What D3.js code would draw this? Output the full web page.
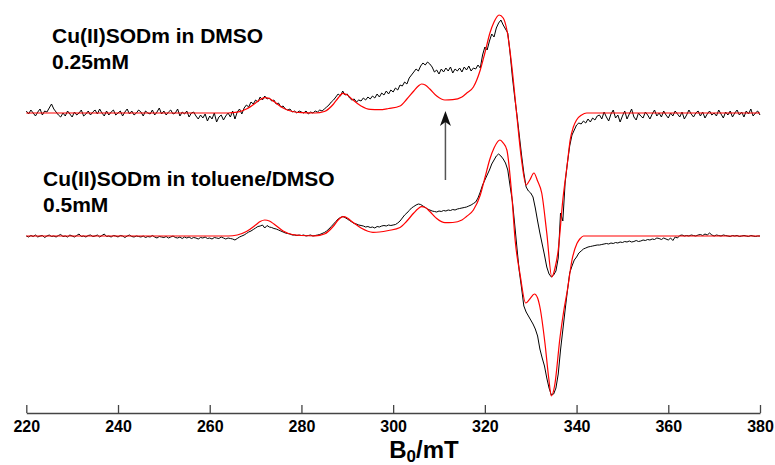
<!DOCTYPE html>
<html>
<head>
<meta charset="utf-8">
<script src="https://cdn.jsdelivr.net/npm/d3@7"></script>
<style>
  html, body { margin: 0; padding: 0; background: #fff; }
  svg { display: block; }
  text { font-family: "Liberation Sans", Arial, sans-serif; font-weight: bold; fill: #000; }
</style>
</head>
<body>
<svg id="chart" width="775" height="465"></svg>
<script>
// EPR spectra, Cu(II)SODm — experimental (black) vs simulated (red)

const FIELD_START = 220;     // mT
const FIELD_STEP  = 0.5;     // mT per experimental point
const ROW_SPAN    = 5;       // mT per row of 10 points

const xTicks = [220, 240, 260, 280, 300, 320, 340, 360, 380];

// vertical offsets of the two spectra (a.u.)
const OFFSET_TOP    = 0;
const OFFSET_BOTTOM = -123;

// ─── Top spectrum: DMSO 0.25 mM ───────────────────────────────────────────────
const topExp = [
  [2, -1, 3, 0, -3, 1, 4, -2, 2, 1],            // 220
  [5, 9, 4, 1, -2, -4, 0, -3, 2, -1],
  [-4, 1, -2, 0, 3, -3, -1, 2, -2, 1],          // 230
  [3, -1, 4, 0, -3, 2, -2, 1, 3, -2],
  [0, 2, -3, 1, 4, -1, 2, -2, 0, 3],            // 240
  [1, -3, 2, 0, -1, 3, -2, 1, 5, -1],
  [2, -2, 1, 3, -1, 0, 4, -3, 1, -1],           // 250
  [2, -4, 0, 1, -3, -6, -2, -5, -1, -8],
  [-3, -6, 0, -9, -4, -2, -7, -3, 0, -4],       // 260
  [2, -6, 1, 4, -1, 5, 8, 6, 11, 9],
  [13, 11, 16, 13, 17, 14, 15, 12, 13, 9],      // 270
  [10, 6, 7, 4, 3, 4, 1, 2, 0, 2],
  [1, 0, 2, -1, 1, 0, 2, 1, 3, 2],              // 280
  [4, 6, 8, 11, 13, 16, 19, 17, 22, 18],
  [19, 15, 13, 14, 11, 13, 12, 15, 13, 16],     // 290
  [14, 17, 15, 19, 16, 20, 18, 22, 19, 23],
  [21, 25, 23, 28, 27, 31, 29, 35, 38, 41],     // 300
  [44, 42, 47, 50, 48, 51, 49, 46, 41, 43],
  [39, 44, 41, 45, 42, 46, 40, 44, 42, 45],     // 310
  [41, 46, 43, 47, 42, 45, 44, 48, 45, 58],
  [66, 63, 72, 79, 76, 85, 90, 93, 88, 84],     // 320
  [80, 60, 36, 16, -2, -22, -42, -60, -74, -78],
  [-80, -84, -95, -108, -120, -131, -142, -154, -161, -164], // 330
  [-162, -158, -145, -100, -108, -70, -50, -33, -22, -17],
  [-12, -10, -11, -8, -10, -6, -9, -5, -7, -3], // 340
  [-2, -6, 1, -4, -8, -1, 3, -5, -2, -9],
  [-3, 2, -6, -1, 4, -4, -7, 0, -3, -5],        // 350
  [1, -2, -6, -1, 3, -3, 0, -4, 2, -2],
  [-5, 0, -3, 2, -1, -4, 1, -6, -2, 3],         // 360
  [-1, -4, 0, 2, -3, 1, -5, -1, 2, -2],
  [0, -3, 3, -1, -5, 1, -2, 2, -4, 0],          // 370
  [3, -2, 1, -4, 2, -1, 4, -3, 0, 2],
  [-2]                                          // 380
];

const topSimField = [220, 264, 266, 268, 270, 271, 272, 273, 274, 276, 278, 280, 283, 285, 287, 288,
  289, 290, 291, 293, 295, 297, 299, 301.5, 303, 304.5, 305.5, 306.2, 307, 308, 309.5, 311.3,
  313, 315, 316, 317.5, 319, 320, 321.1, 322, 323.1, 324, 324.8, 325.9, 327, 328, 329, 329.8,
  330.7, 331.5, 332.4, 333.5, 334.6, 335.3, 336, 337, 338, 338.6, 339.3, 340, 341.1, 342.2, 380];
const topSimValue = [0, 0, 0.8, 4, 10, 13.5, 15.3, 14.5, 11.5, 5, 1.5, 0.3, 0, 1.5, 9, 15,
  19.7, 18, 14, 7, 3.6, 3.3, 4.5, 7, 14, 22, 27, 29, 28, 24, 17, 13,
  13.3, 16, 19.7, 26, 43, 60, 80, 91, 98, 95, 83, 46, -4, -47, -72, -67,
  -60, -68, -80, -120, -164, -155, -137, -87, -50, -27, -14, -7, -2, 0, 0];

// ─── Bottom spectrum: toluene/DMSO 0.5 mM ─────────────────────────────────────
const bottomExp = [
  [0, -1, 0.5, -0.5, 1, -1, 0, 0.5, -1.5, 0],                // 220
  [1, -0.5, 0, -1, 0.5, 1.5, -0.5, 0, -1, 1],
  [0, -1, 0.5, 2, -0.5, 0, -1, 0.5, 1, -0.5],                // 230
  [0, 1, -1, 0.5, 2, -0.5, 0, -1, 0.5, 0],
  [-1, 0.5, 0, -1.5, 0, 1, -0.5, -1, 0, -0.5],               // 240
  [-1, 0, -1.5, -0.5, -1, 0.5, -1, -2, -0.5, -1],
  [-1.5, -0.5, -2, -1, 0, -1.5, -2, -1, -2.5, -1],           // 250
  [-2, -1, -2.5, -1.5, -2, -3, -1.5, -2, -1, -2.5],
  [-2, -3, -1.5, -2, -2.5, -1, -2, -3, -2, -2.5],            // 260
  [-3, -4, -2.5, -1, 0, 1, 2.5, 4, 5, 6.5],
  [8, 9.5, 10, 11, 8, 10.5, 9, 8.5, 7.5, 7],                 // 270
  [6, 5, 4, 3, 2.5, 2, 1, 1, 0.5, 1],
  [0.5, 1, 0, 0.5, 1, 0, 0.5, 1, 1.5, 2.5],                  // 280
  [3.5, 5, 7, 9.5, 12, 14.5, 17, 18.5, 19.5, 18.5],
  [17, 15.5, 14, 12.5, 12, 11, 10.5, 10, 9, 9.5],            // 290
  [8.5, 9, 8, 9.5, 9, 10, 10.5, 10, 11, 10.5],
  [11, 11.5, 13, 15, 18, 21, 23, 25.5, 28, 29.5],            // 300
  [31, 32, 31.5, 30, 28.5, 27, 26, 25, 24.5, 24],
  [25, 24.5, 25.5, 25, 26, 25.5, 26.5, 26, 27, 27.5],        // 310
  [28, 28.5, 29, 30, 31, 32.5, 34, 38, 44, 51],
  [56, 61, 66, 72, 76, 80, 82, 80, 77, 73],                  // 320
  [66, 50, 35, 12, -12, -35, -52, -70, -76, -80],
  [-84, -88, -93, -100, -113, -122, -130, -142, -152, -159], // 330
  [-158, -152, -138, -114, -94, -74, -55, -37, -30, -24],
  [-21, -17, -15, -13, -12, -11, -10.5, -10, -9.5, -9],      // 340
  [-9, -8.5, -8, -7.5, -8, -7, -7.5, -6.5, -7, -6],
  [-6.5, -5.5, -6, -5, -6, -5.5, -4.5, -5.5, -5, -4],        // 350
  [-4.5, -3.5, -4, -3, -3.5, -2, -2.5, -3.5, -2, -3],
  [-4, -2, -4.5, -1, -2, 0.5, 1, 0, 0.5, 0],                 // 360
  [1, 0.5, 0, 1, 1.5, 0.5, 2, 1, 3, 1],
  [0, 1, 0.5, 0, 1, 0.5, 0, -0.5, 0.5, 0],                   // 370
  [0.5, -0.5, 0, 0.5, 0, -0.5, 0.5, 0, -0.5, 0],
  [0]                                                        // 380
];

const bottomSimField = [220, 264, 266, 268, 270, 271, 272, 273, 274, 276, 278, 280, 283, 285, 287, 288,
  289.2, 290, 291, 293, 295.6, 297, 299, 301.5, 303, 304.5, 305.5, 306.2, 307, 308, 309.5, 311.3,
  313, 315, 316, 317.5, 319, 320, 321.1, 322, 323.3, 324, 324.8, 325.9, 326.6, 327.7, 328.9, 329.8,
  330.8, 331.5, 332, 333.1, 333.9, 334.5, 335.2, 336.4, 337.2, 338, 339, 340.1, 340.8, 341.5, 380];
const bottomSimValue = [0, 0, 1, 4.5, 11, 14.5, 16, 15, 12, 5, 1.5, 0.5, 0.2, 2, 10, 16,
  19.3, 18, 14.5, 8, 3.7, 4, 5.5, 8.5, 15, 23, 27.5, 29.3, 28.5, 24.5, 17.5, 13.3,
  13.5, 16, 19.5, 26, 41, 58, 77, 88, 96, 93, 86, 39, -4, -39, -67, -63,
  -58, -62, -71, -107, -141, -160, -150, -101, -75, -54, -24, -7.3, -2.5, 0, 0];

const sampleLabels = [
  ["Cu(II)SODm in DMSO", "0.25mM"],
  ["Cu(II)SODm in toluene/DMSO", "0.5mM"]
];

// ─── Helpers ──────────────────────────────────────────────────────────────────
function unrollRows(rows) {
  const pts = [];
  rows.forEach((row, r) => row.forEach((v, j) => {
    pts.push([FIELD_START + r * ROW_SPAN + j * FIELD_STEP, v]);
  }));
  return pts;
}

const svg = d3.select('#chart');

const x = d3.scaleLinear().domain([220, 380]).range([26.3, 760]);
const y = d3.scaleLinear().domain([-300, 113]).range([413, 0]);

function lineFor(offset, curve) {
  return d3.line()
    .x(d => x(d[0]))
    .y(d => y(d[1] + offset))
    .curve(curve);
}

const topSim    = d3.zip(topSimField, topSimValue);
const bottomSim = d3.zip(bottomSimField, bottomSimValue);

// experimental traces
svg.append('path')
  .attr('d', lineFor(OFFSET_TOP, d3.curveLinear)(unrollRows(topExp)))
  .attr('fill', 'none').attr('stroke', '#000').attr('stroke-width', 1);
svg.append('path')
  .attr('d', lineFor(OFFSET_BOTTOM, d3.curveLinear)(unrollRows(bottomExp)))
  .attr('fill', 'none').attr('stroke', '#000').attr('stroke-width', 1);

// simulations
svg.append('path')
  .attr('d', lineFor(OFFSET_TOP, d3.curveMonotoneX)(topSim))
  .attr('fill', 'none').attr('stroke', '#ff0000').attr('stroke-width', 1.2);
svg.append('path')
  .attr('d', lineFor(OFFSET_BOTTOM, d3.curveMonotoneX)(bottomSim))
  .attr('fill', 'none').attr('stroke', '#ff0000').attr('stroke-width', 1.2);

// ─── Axis ─────────────────────────────────────────────────────────────────────
const axisY = 413;
const axis = d3.axisBottom(x).tickValues(xTicks).tickSizeInner(-8).tickSizeOuter(0).tickPadding(8);
const gx = svg.append('g').attr('transform', `translate(0,${axisY})`).call(axis);
gx.select('.domain').attr('stroke', '#444').attr('stroke-width', 1.3);
gx.selectAll('.tick line').attr('stroke', '#444').attr('stroke-width', 1.3);
gx.selectAll('.tick text')
  .attr('fill', '#000')
  .style('font-size', '16px')
  .style('font-weight', 'bold')
  .style('font-family', '"Liberation Sans", Arial, sans-serif');

const title = svg.append('text')
  .attr('x', 424).attr('y', 458)
  .attr('text-anchor', 'middle')
  .style('font-size', '24px');
title.append('tspan').text('B');
title.append('tspan').attr('dy', 3.5).style('font-size', '17px').text('0');
title.append('tspan').attr('dy', -3.5).text('/mT');

// ─── Arrow ────────────────────────────────────────────────────────────────────
const arrowX = x(311.4);
svg.append('line')
  .attr('x1', arrowX).attr('x2', arrowX)
  .attr('y1', 180).attr('y2', 122)
  .attr('stroke', '#555').attr('stroke-width', 1.5);
svg.append('path')
  .attr('d', `M${arrowX},111 L${arrowX - 5.5},126 L${arrowX},122 L${arrowX + 5.5},126 Z`)
  .attr('fill', '#111');

// ─── Sample labels ────────────────────────────────────────────────────────────
const labelPos = [[52, 43], [43, 186]];
sampleLabels.forEach((lines, i) => {
  lines.forEach((s, k) => {
    svg.append('text')
      .attr('x', labelPos[i][0])
      .attr('y', labelPos[i][1] + k * 26)
      .style('font-size', '21px')
      .text(s);
  });
});
</script>
</body>
</html>
